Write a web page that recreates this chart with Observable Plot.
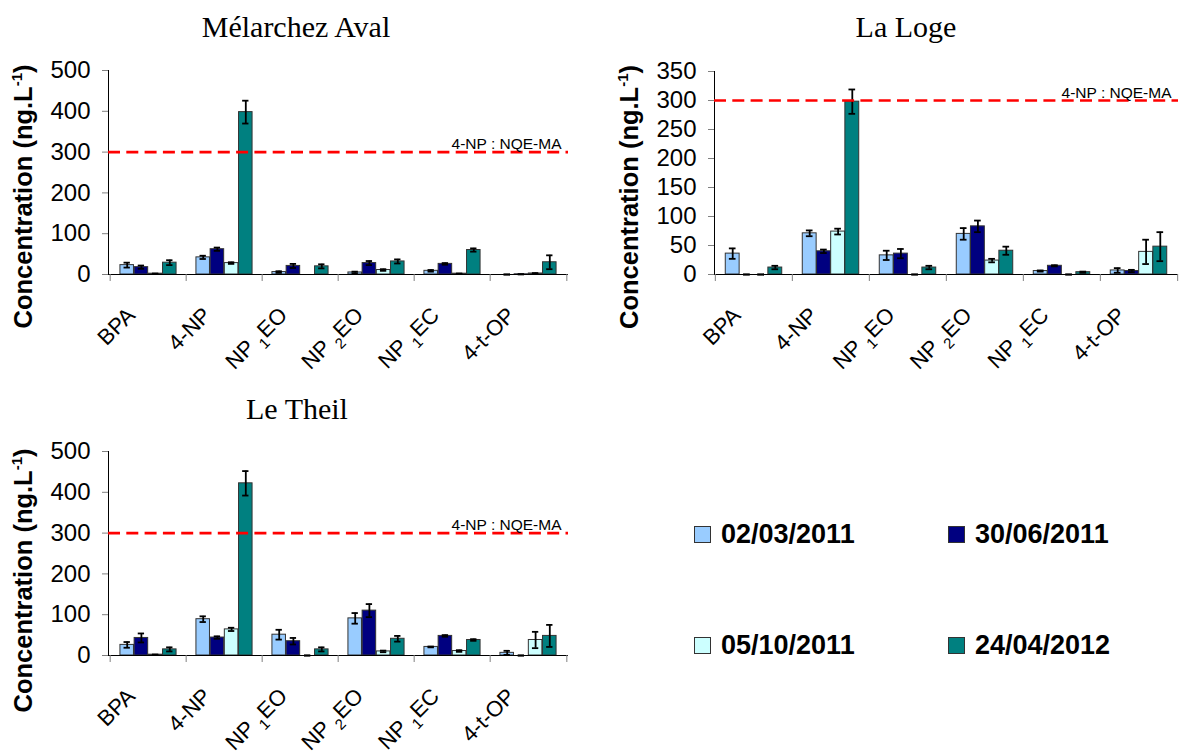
<!DOCTYPE html>
<html><head><meta charset="utf-8">
<script src="https://cdn.jsdelivr.net/npm/d3@7"></script>
<script src="https://cdn.jsdelivr.net/npm/@observablehq/plot@0.6"></script>
<style>
html,body{margin:0;padding:0;background:#fff;}
#root{position:relative;width:1184px;height:751px;overflow:hidden;font-family:"Liberation Sans",Arial,sans-serif;color:#000;}
.panel{position:absolute;}
.title{position:absolute;font-family:"Liberation Serif","Times New Roman",serif;font-size:30px;line-height:30px;white-space:nowrap;color:#000;transform:translateX(-50%);}
.panel svg [aria-label^="y-axis"]{color:#808080;}
.panel svg [aria-label^="y-axis"] text{fill:#000;}
.leg{position:absolute;font-weight:bold;font-size:27px;line-height:27px;white-space:nowrap;}
.sw{position:absolute;width:15px;height:15px;border:1px solid #333;}
</style></head><body><div id="root"></div>
<script>
// ---- data ----
const categories = ["BPA", "4-NP", "NP1EO", "NP2EO", "NP1EC", "4-t-OP"];
const dates = ["02/03/2011", "30/06/2011", "05/10/2011", "24/04/2012"];
const colors = ["#99CCFF", "#000080", "#CCFFFF", "#008080"];
const yLabel = "Concentration (ng.L-1)";
const nqeValue = 300;
const nqeLabel = "4-NP : NQE-MA";

// Mélarchez Aval
const melarchez_0203 = [23, 42, 6, 5, 9, 0];
const melarchez_3006 = [18, 62, 21, 28, 26, 0.5];
const melarchez_0510 = [2, 28, null, 11, 2, 2.5];
const melarchez_2404 = [29, 398, 20, 32, 60, 30];
const melarchez_0203_err = [6, 4, 2, 2, 2, 0];
const melarchez_3006_err = [4, 4, 5, 5, 2, 0];
const melarchez_0510_err = [0, 2, null, 2, 0, 1];
const melarchez_2404_err = [6, 28, 5, 5, 4, 17];

// La Loge
const laloge_0203 = [36, 71, 33, 70, 6, 7];
const laloge_3006 = [0, 40, 36, 83, 15, 6];
const laloge_0510 = [0, 74, 0, 24, 0, 39];
const laloge_2404 = [12, 298, 12, 41, 4, 48];
const laloge_0203_err = [9, 5, 8, 10, 1, 4];
const laloge_3006_err = [0, 3, 8, 10, 1, 2];
const laloge_0510_err = [0, 5, 0, 3, 0, 21];
const laloge_2404_err = [3, 21, 3, 7, 1, 25];

// Le Theil
const letheil_0203 = [26, 89, 51, 91, 21, 6.5];
const letheil_3006 = [43, 44, 35, 110, 48, 0];
const letheil_0510 = [2, 64, 0, 10, 11, 38];
const letheil_2404 = [15, 422, 15, 41, 38, 48];
const letheil_0203_err = [7, 7, 12, 13, 1, 5];
const letheil_3006_err = [11, 3, 8, 16, 2, 0];
const letheil_0510_err = [0, 4, 0, 2, 2, 20];
const letheil_2404_err = [5, 30, 5, 7, 2, 27];

const titles = ["Mélarchez Aval", "La Loge", "Le Theil"];
const yMaxes = [500, 350, 500];
const ySteps = [100, 50, 100];

// ---- layout ----
const root = document.getElementById("root");
const layouts = [
  {left: 0, top: 55, width: 590, height: 330, mL: 108, mR: 22, mT: 15, mB: 111, titleX: 296, titleTop: 12, labelDx: -76.5, labelDy: 24},
  {left: 600, top: 55, width: 584, height: 330, mL: 114, mR: 6, mT: 16, mB: 111, titleX: 906, titleTop: 12, labelDx: -77, labelDy: 24},
  {left: 0, top: 436, width: 590, height: 315, mL: 108, mR: 22, mT: 15, mB: 96, titleX: 297, titleTop: 394, labelDx: -76.5, labelDy: 27}
];
const seriesSets = [
  [[melarchez_0203, melarchez_3006, melarchez_0510, melarchez_2404], [melarchez_0203_err, melarchez_3006_err, melarchez_0510_err, melarchez_2404_err]],
  [[laloge_0203, laloge_3006, laloge_0510, laloge_2404], [laloge_0203_err, laloge_3006_err, laloge_0510_err, laloge_2404_err]],
  [[letheil_0203, letheil_3006, letheil_0510, letheil_2404], [letheil_0203_err, letheil_3006_err, letheil_0510_err, letheil_2404_err]]
];

const SVGNS = "http://www.w3.org/2000/svg";
function addSpan(t, str, attrs) {
  const s = document.createElementNS(SVGNS, "tspan");
  s.textContent = str;
  if (attrs) for (const k in attrs) s.setAttribute(k, attrs[k]);
  t.appendChild(s);
}
function richText(svg) {
  svg.querySelectorAll("text").forEach(t => {
    if (t.querySelector("tspan")) return;
    const s = t.textContent;
    let m = s.match(/^NP(\d)(E[OC])$/);
    if (m) {
      t.textContent = "";
      addSpan(t, "NP ");
      addSpan(t, m[1], {dy: 7, "font-size": 15});
      addSpan(t, m[2], {dy: -7});
      return;
    }
    m = s.match(/^(.*\(ng\.L)(-1)(\))$/);
    if (m) {
      t.textContent = "";
      addSpan(t, m[1]);
      addSpan(t, m[2], {dy: -10, "font-size": 15});
      addSpan(t, m[3], {dy: 10});
    }
  });
}

layouts.forEach((L, p) => {
  const [series, errors] = seriesSets[p];
  const rows = [];
  dates.forEach((d, j) => categories.forEach((c, i) => {
    const v = series[j][i];
    if (v == null) return;
    rows.push({cat: c, date: d, j, v, e: errors[j][i]});
  }));
  const bw = (L.width - L.mL - L.mR) / categories.length;
  const barW = 14.2;
  const pad = (bw - barW * dates.length) / 2;
  const marks = [];
  dates.forEach((d, j) => {
    const sub = rows.filter(r => r.j === j);
    const left = pad + barW * j;
    const dx = left + barW / 2 - bw / 2;
    marks.push(Plot.barY(sub.filter(r => r.v > 0), {
      x: "cat", y: "v", fill: colors[j], stroke: "#333", strokeWidth: 1,
      insetLeft: left, insetRight: bw - left - barW
    }));
    marks.push(Plot.ruleX(sub, {
      x: "cat", y1: r => Math.max(0, r.v - r.e), y2: r => r.v + r.e,
      dx, stroke: "#000", strokeWidth: 1.8
    }));
    const capOpts = {x: "cat", insetLeft: bw / 2 + dx - 3.5, insetRight: bw / 2 - dx - 3.5, stroke: "#000", strokeWidth: 1.8};
    marks.push(Plot.tickY(sub, {...capOpts, y: r => r.v + r.e}));
    marks.push(Plot.tickY(sub, {...capOpts, y: r => Math.max(0, r.v - r.e)}));
  });
  marks.push(Plot.ruleY([0], {stroke: "#000", strokeWidth: 1}));
  marks.push(Plot.ruleX(categories, {x: d => d, y1: 0, y2: 0, insetBottom: -7, dx: -bw / 2, stroke: "#808080"}));
  marks.push(Plot.ruleX([categories[categories.length - 1]], {x: d => d, y1: 0, y2: 0, insetBottom: -7, dx: bw / 2, stroke: "#808080"}));
  marks.push(Plot.ruleY([nqeValue], {stroke: "#FF0000", strokeWidth: 2.6, strokeDasharray: "12,6.3"}));
  marks.push(Plot.text([nqeValue], {
    y: d => d, text: () => nqeLabel, frameAnchor: "right", textAnchor: "end",
    lineAnchor: "bottom", dx: -7, dy: -3, fontSize: 15.5, fill: "#000"
  }));
  marks.push(Plot.text(categories, {
    x: d => d, y: () => 0, text: d => d, rotate: -45, textAnchor: "end",
    lineAnchor: "bottom", dx: -12, dy: 42, fontSize: 22, fill: "#000"
  }));
  marks.push(Plot.text([yLabel], {
    text: d => d, frameAnchor: "left", rotate: -90, textAnchor: "middle", lineAnchor: "bottom",
    dx: L.labelDx, dy: L.labelDy, fontSize: 25.5, fontWeight: "bold", fill: "#000"
  }));

  const svg = Plot.plot({
    width: L.width, height: L.height,
    marginLeft: L.mL, marginRight: L.mR, marginTop: L.mT, marginBottom: L.mB,
    style: {fontSize: "24px", fontFamily: '"Liberation Sans", Arial, sans-serif', background: "transparent", color: "#000", overflow: "visible"},
    x: {domain: categories, padding: 0, axis: null},
    y: {domain: [0, yMaxes[p]], ticks: d3.range(0, yMaxes[p] + 1, ySteps[p]), tickFormat: d => String(d), tickSize: 6, tickPadding: 12, label: null, line: true},
    marks
  });
  richText(svg);
  const div = document.createElement("div");
  div.className = "panel";
  div.style.left = L.left + "px";
  div.style.top = L.top + "px";
  div.appendChild(svg);
  root.appendChild(div);

  const t = document.createElement("div");
  t.className = "title";
  t.textContent = titles[p];
  t.style.left = L.titleX + "px";
  t.style.top = L.titleTop + "px";
  root.appendChild(t);
});

// ---- legend ----
const legendPos = [[694, 526], [948, 526], [694, 637], [948, 637]];
dates.forEach((d, j) => {
  const [x, y] = legendPos[j];
  const sw = document.createElement("div");
  sw.className = "sw";
  sw.style.left = x + "px";
  sw.style.top = y + "px";
  sw.style.background = colors[j];
  root.appendChild(sw);
  const lab = document.createElement("div");
  lab.className = "leg";
  lab.textContent = d;
  lab.style.left = (x + 27) + "px";
  lab.style.top = (y - 5) + "px";
  root.appendChild(lab);
});
</script></body></html>
